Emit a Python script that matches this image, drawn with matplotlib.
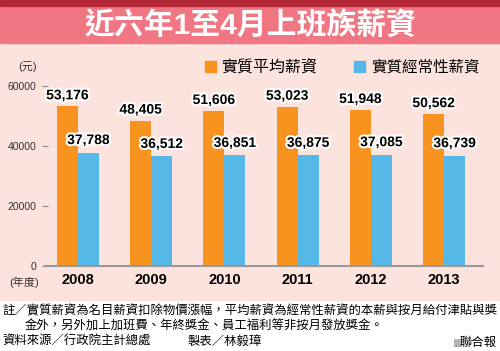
import matplotlib
matplotlib.use('Agg')
import matplotlib.pyplot as plt
import matplotlib.patheffects as pe
from matplotlib.patches import Rectangle

plt.rcParams['font.family'] = ['Liberation Sans', 'Noto Sans CJK TC', 'DejaVu Sans']

years = ['2008', '2009', '2010', '2011', '2012', '2013']
avg_wage = [53176, 48405, 51606, 53023, 51948, 50562]
regular_wage = [37788, 36512, 36851, 36875, 37085, 36739]
yticks = [0, 20000, 40000, 60000]

title = '近六年1至4月上班族薪資'
legend_labels = ['實質平均薪資', '實質經常性薪資']
note1 = '註／實質薪資為名目薪資扣除物價漲幅，平均薪資為經常性薪資的本薪與按月給付津貼與獎'
note2 = '金外，另外加上加班費、年終獎金、員工福利等非按月發放獎金。'
source = '資料來源／行政院主計總處'
maker = '製表／林毅璋'
paper = '聯合報'

orange = '#F7931E'
blue = '#55B8E7'
bg = '#FDE3DD'

W, H = 500, 351
fig = plt.figure(figsize=(W / 100, H / 100), dpi=100, facecolor='white')


def fx(px):
    return px / W


def fy(py):
    return 1 - py / H


# background bands, kept behind the axes
fig.patches.append(Rectangle((0, fy(300)), 1, fy(43) - fy(300),
                             transform=fig.transFigure, color=bg, zorder=-5))
fig.patches.append(Rectangle((0, fy(43)), 1, fy(6) - fy(43),
                             transform=fig.transFigure, color='#F07683', zorder=-5))
fig.patches.append(Rectangle((0, fy(6)), 1, 1 - fy(6),
                             transform=fig.transFigure, color='#B42736', zorder=-5))

fig.text(0.5, fy(25), title, color='white', fontsize=21.5, fontweight='bold',
         ha='center', va='center')

# axes: x axis line at y=266, 60000 at y=86
ax = fig.add_axes([fx(45), fy(266), fx(483) - fx(45), fy(86) - fy(266)])
ax.set_facecolor('none')

x = list(range(len(years)))
w = 0.287
ax.bar([i - w / 2 for i in x], avg_wage, w, color=orange, zorder=2)
ax.bar([i + w / 2 for i in x], regular_wage, w, color=blue, zorder=2)

halo = [pe.withStroke(linewidth=3, foreground='white')]
for i in x:
    ax.annotate(f'{avg_wage[i]:,}', (i - w / 2, avg_wage[i]), xytext=(0, 3),
                textcoords='offset points', ha='center', va='bottom',
                fontsize=10, fontweight='bold', path_effects=halo,
                annotation_clip=False, zorder=3)
    ax.annotate(f'{regular_wage[i]:,}', (i + w / 2, regular_wage[i]), xytext=(0, 4),
                textcoords='offset points', ha='center', va='bottom',
                fontsize=10, fontweight='bold', path_effects=halo,
                annotation_clip=False, zorder=3)

ax.set_xlim(-0.45, 5.53)
ax.set_ylim(0, 60000)
ax.set_yticks(yticks)
ax.set_yticklabels([str(v) for v in yticks], fontsize=7.5, color='#333333')
ax.set_xticks(x)
ax.set_xticklabels(years, fontsize=10.5, fontweight='bold')
ax.tick_params(axis='x', length=0, pad=5)
ax.tick_params(axis='y', length=4, direction='inout', color='#888888', pad=4)
for s in ['top', 'right', 'left']:
    ax.spines[s].set_visible(False)
ax.spines['bottom'].set_color('#999999')
ax.spines['bottom'].set_linewidth(1.5)

fig.text(fx(18), fy(67), '(元)', fontsize=8, ha='left', va='center', color='#333333')
fig.text(fx(9), fy(282), '(年度)', fontsize=8, ha='left', va='center', color='#333333')

# legend
fig.patches.append(Rectangle((fx(205), fy(72)), fx(11), fy(61) - fy(72),
                             transform=fig.transFigure, color=orange, zorder=2))
fig.text(fx(221), fy(67), legend_labels[0], fontsize=11.5, ha='left', va='center')
fig.patches.append(Rectangle((fx(354), fy(72)), fx(11), fy(61) - fy(72),
                             transform=fig.transFigure, color=blue, zorder=2))
fig.text(fx(371), fy(67), legend_labels[1], fontsize=11.2, ha='left', va='center')

# notes
fig.text(fx(2), fy(311), note1, fontsize=8.9, ha='left', va='center')
fig.text(fx(25), fy(327), note2, fontsize=8.9, ha='left', va='center')
fig.text(fx(2), fy(342), source, fontsize=8.9, ha='left', va='center')
fig.text(fx(188), fy(342), maker, fontsize=8.9, ha='left', va='center')
fig.patches.append(Rectangle((fx(454), fy(347)), fx(8), fy(339) - fy(347),
                             transform=fig.transFigure, facecolor='#BBBBBB',
                             edgecolor='#999999', hatch='....', lw=0, zorder=2))
fig.text(fx(497), fy(343), paper, fontsize=8.9, ha='right', va='center')

fig.savefig('out.png', dpi=100, facecolor='white')
